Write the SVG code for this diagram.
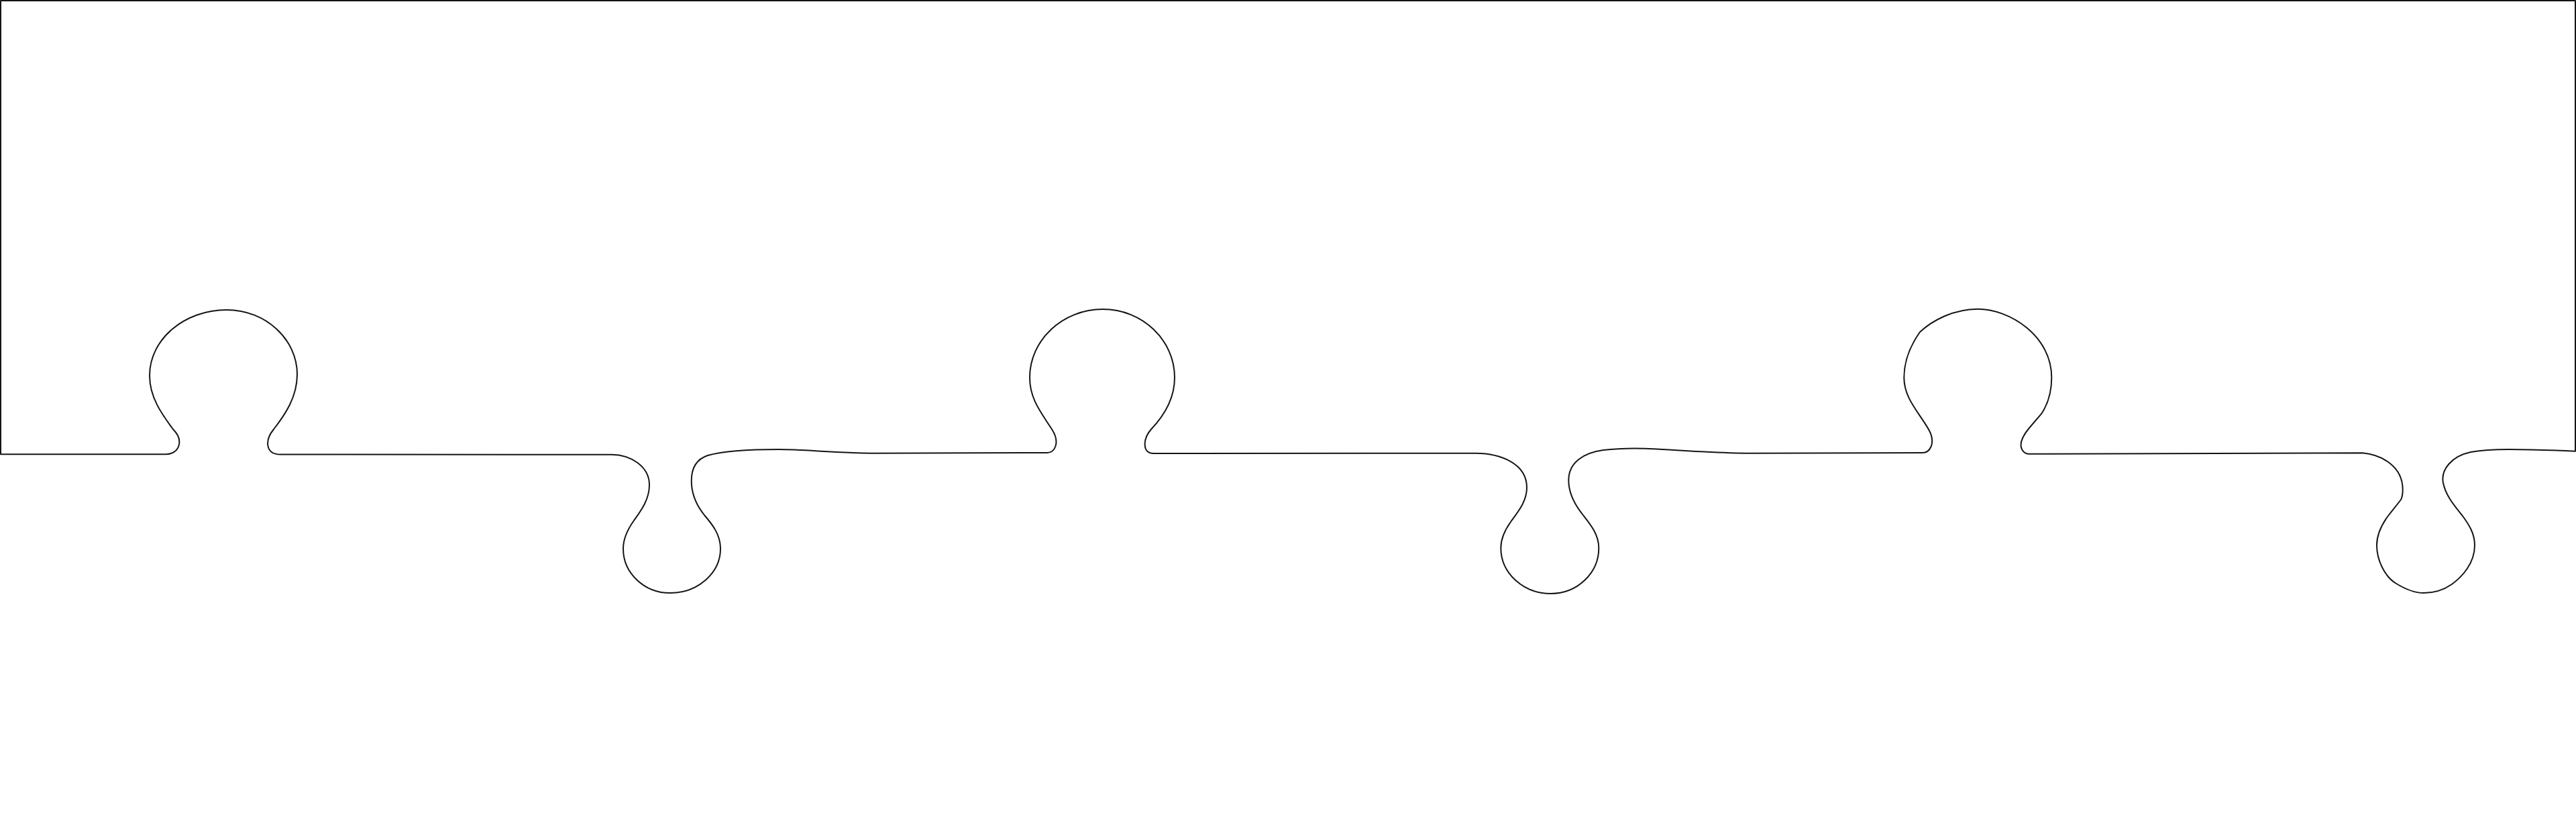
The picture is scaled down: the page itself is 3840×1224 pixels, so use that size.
<svg xmlns="http://www.w3.org/2000/svg" width="3840" height="1224" viewBox="0 0 3840 1224">
<style>
.edge{fill:none;stroke:#141414;stroke-width:2;stroke-linejoin:round;stroke-linecap:round}
</style>
<rect x="0" y="0" width="3840" height="1224" fill="#ffffff"/>
<g id="puzzle-strip">
<path class="edge" d="M 1 677.3 L 246.7 677.3
C 267 677.3, 275 657, 258 640
C 245 622, 223 595, 223 560
C 223 506, 274.5 462, 338 462
C 396 462, 443 506, 443 558
C 443 592, 425 618, 408 640
C 394 657, 396 677.5, 418 677.5
L 911.7 677.7
C 940 678, 968 695, 968 723
C 968 745, 955 762, 945 776
C 935 790, 929 803, 929 818
C 929 854.4, 960.4 884, 999 884
C 1040 884, 1074 854.4, 1074 818
C 1074 797, 1062 782, 1050 768
C 1038 753, 1030.7 735, 1030.7 716.7
C 1030.7 695, 1040 684, 1055 679
C 1080 672, 1120 670, 1160 670
C 1200 670, 1240 675, 1300 675.7
L 1561 675
C 1572 675, 1581 660, 1568 640
C 1552 615, 1535 595, 1535 563
C 1535 507, 1584 461, 1644 461
C 1703 461, 1751 507, 1751 563
C 1751 595, 1735 620, 1716 640
C 1703 655, 1703 676, 1719.4 676
L 2200 675.7
C 2235 676, 2276 690, 2276 727
C 2276 748, 2262 764, 2252 778
C 2242 792, 2237.3 805, 2237.3 817
C 2237.3 854.5, 2270.7 885, 2311.7 885
C 2351.2 885, 2383.3 854.5, 2383.3 817
C 2383.3 797, 2371 782, 2360 768
C 2347 752, 2338.3 735, 2338.3 716
C 2338.3 690, 2360 675, 2390 671
C 2415 668, 2445 668, 2470 669.5
C 2520 672, 2560 675.7, 2610 675.7
L 2866 675
C 2876 675, 2886 662, 2876 642
C 2862 616, 2838.3 595, 2838.3 563
C 2838.3 535, 2850 512, 2862 495
C 2880 478, 2912 460.7, 2948.3 460.7
C 2995 460.7, 3058.3 500, 3058.3 563
C 3058.3 588, 3051 605, 3043.3 616.7
L 3025 638
C 3015 650, 3010 662, 3014 670
C 3017 675, 3020 676.7, 3024 676.7
L 3521.7 675.3
C 3550 678, 3581.7 695, 3581.7 730
C 3581.7 737, 3581 741, 3579 745
L 3560 769
C 3549 784, 3543 798, 3543 813
C 3543 835, 3555 860, 3572 870
C 3585 878, 3600 884, 3613 884
C 3630 884, 3645 878, 3655 871
C 3670 860, 3689 840, 3689 813
C 3689 795, 3680 782, 3673 772
C 3660 755, 3646 740, 3642 720
C 3638 700, 3655 680, 3683 674
C 3700 671, 3720 670, 3740 670
C 3770 670, 3800 671, 3839 672.7
L 3839 1 L 1 1 Z"/>
</g>
</svg>
